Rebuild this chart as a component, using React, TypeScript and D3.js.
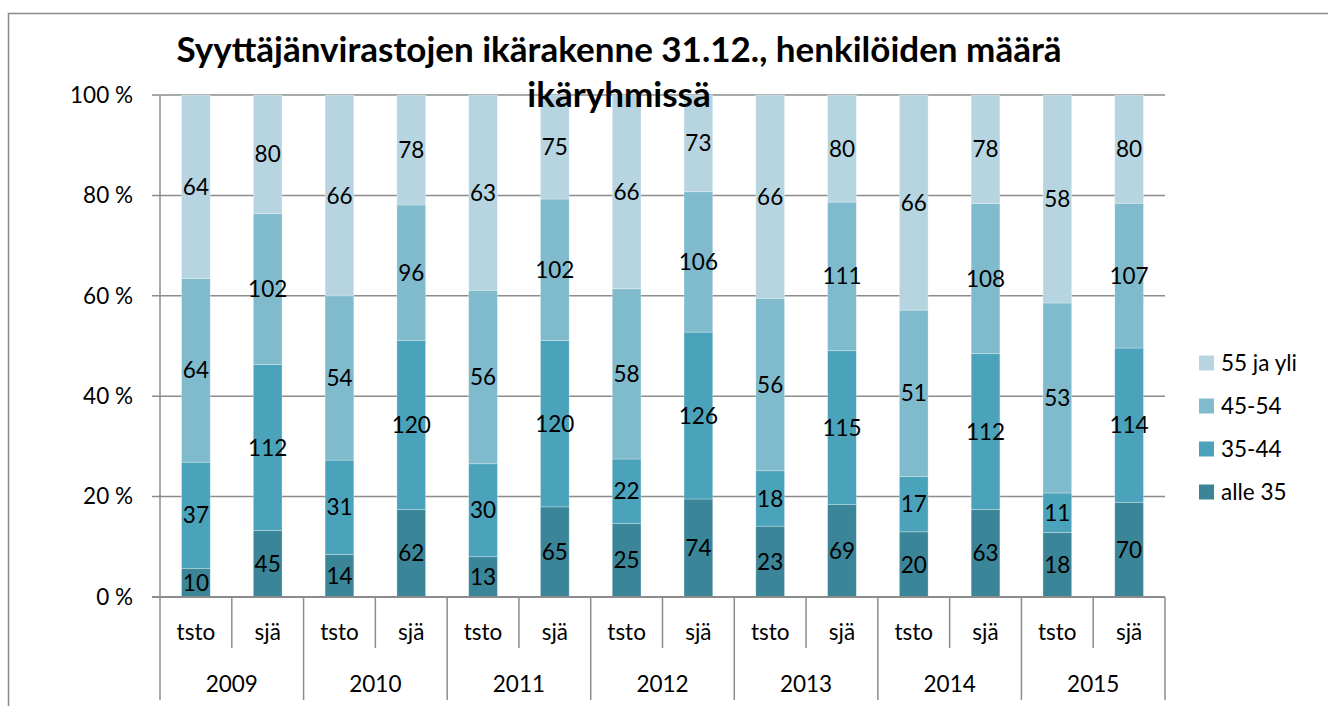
import React from "react";
import * as d3 from "d3";

const years = ["2009", "2010", "2011", "2012", "2013", "2014", "2015"];
const groups = ["tsto", "sjä"];
const seriesNames = ["alle 35", "35-44", "45-54", "55 ja yli"];
const colors = ["#3a8598", "#4aa3ba", "#7fbacd", "#b6d5e0"];
// values per bar in order: year × group
const alle35 = [10, 45, 14, 62, 13, 65, 25, 74, 23, 69, 20, 63, 18, 70];
const v3544 = [37, 112, 31, 120, 30, 120, 22, 126, 18, 115, 17, 112, 11, 114];
const v4554 = [64, 102, 54, 96, 56, 102, 58, 106, 56, 111, 51, 108, 53, 107];
const v55 = [64, 80, 66, 78, 63, 75, 66, 73, 66, 80, 66, 78, 58, 80];
const yTicks = [0, 0.2, 0.4, 0.6, 0.8, 1];

const FONT = "Lato, 'Open Sans', sans-serif";

export default function App() {
  const W = 1328, H = 706;
  const left = 160, right = 1165, top = 95, bottom = 597;
  const keys = years.flatMap((y) => groups.map((g) => `${y}-${g}`));
  const x = d3.scaleBand<string>().domain(keys).range([left, right]).paddingInner(0.6).paddingOuter(0.3);
  const y = d3.scaleLinear().domain([0, 1]).range([bottom, top]);
  const step = (right - left) / keys.length;
  const all = [alle35, v3544, v4554, v55];
  const rows = keys.map((k, i) => {
    const r: any = { key: k };
    seriesNames.forEach((s, j) => (r[s] = all[j][i]));
    return r;
  });
  const stack = d3.stack<any>().keys(seriesNames).offset(d3.stackOffsetExpand);
  const layers = stack(rows);
  const grid = "#8c8c8c";

  return (
    <svg width={W} height={H} style={{ position: "absolute", left: 0, top: 0, background: "#fff" }}>
      <rect x={8.5} y={13.5} width={W} height={H} fill="none" stroke="#898989" strokeWidth={1.5} />
      <text x={619} y={62} textAnchor="middle" fontFamily={FONT} fontWeight="bold" fontSize={35} fill="#000">
        Syyttäjänvirastojen ikärakenne 31.12., henkilöiden määrä
      </text>
      {/* gridlines */}
      {yTicks.map((t) => (
        <g key={t}>
          <line x1={left - 8} x2={right} y1={y(t)} y2={y(t)} stroke={grid} strokeWidth={1.5} />
          <text x={133} y={y(t)} dy="0.35em" textAnchor="end" fontFamily={FONT} fontSize={22.5} fill="#000">
            {`${Math.round(t * 100)} %`}
          </text>
        </g>
      ))}
      {/* bars */}
      {layers.map((layer, j) => (
        <g key={layer.key}>
          {layer.map((d, i) => (
            <rect key={i} x={x(keys[i])} width={x.bandwidth()} y={y(d[1])} height={y(d[0]) - y(d[1])}
              fill={colors[j]} stroke="#ffffff" strokeOpacity={0.35} strokeWidth={0.8} />
          ))}
        </g>
      ))}
      {/* second title line overlaps bars */}
      <text x={619} y={107} textAnchor="middle" fontFamily={FONT} fontWeight="bold" fontSize={35} fill="#000">
        ikäryhmissä
      </text>
      {/* labels */}
      {layers.map((layer, j) => (
        <g key={"l" + layer.key}>
          {layer.map((d, i) => (
            <text key={i} x={(x(keys[i]) as number) + x.bandwidth() / 2} y={(y(d[0]) + y(d[1])) / 2} dy="0.36em"
              textAnchor="middle" fontFamily={FONT} fontSize={22.5} fill="#000">
              {all[j][i]}
            </text>
          ))}
        </g>
      ))}
      {/* axes */}
      <line x1={left} x2={left} y1={top} y2={bottom} stroke={grid} strokeWidth={1.5} />
      <line x1={left - 8} x2={right} y1={bottom} y2={bottom} stroke={grid} strokeWidth={2} />
      {d3.range(keys.length + 1).map((i) => (
        <line key={"t" + i} x1={left + i * step} x2={left + i * step} y1={bottom} y2={i % 2 === 0 ? 700 : 648}
          stroke={grid} strokeWidth={1.5} />
      ))}
      {keys.map((k, i) => (
        <text key={"c" + k} x={(x(k) as number) + x.bandwidth() / 2} y={632} dy="0.35em" textAnchor="middle"
          fontFamily={FONT} fontSize={22.5} fill="#000">
          {groups[i % 2]}
        </text>
      ))}
      {years.map((yr, i) => (
        <text key={yr} x={left + (i * 2 + 1) * step} y={684} dy="0.35em" textAnchor="middle" fontFamily={FONT}
          fontSize={22.5} fill="#000">
          {yr}
        </text>
      ))}
      {/* legend */}
      {seriesNames.slice().reverse().map((s, i) => (
        <g key={s} transform={`translate(1199, ${363 + i * 43})`}>
          <rect x={0} y={-7.5} width={15} height={15} fill={colors[seriesNames.length - 1 - i]} />
          <text x={22} y={0} dy="0.35em" fontFamily={FONT} fontSize={22.5} fill="#000">{s}</text>
        </g>
      ))}
    </svg>
  );
}
